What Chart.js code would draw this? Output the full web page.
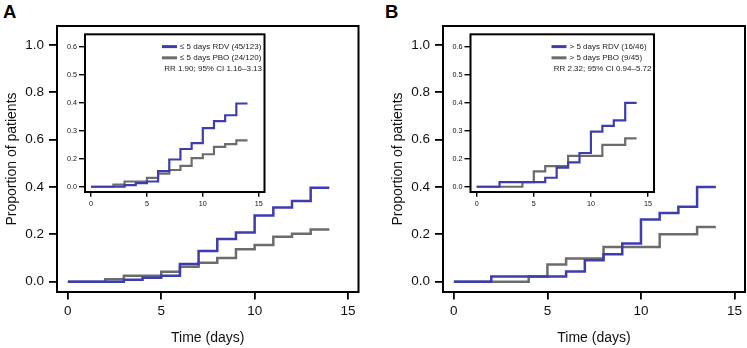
<!DOCTYPE html>
<html>
<head>
<meta charset="utf-8">
<script src="https://cdn.jsdelivr.net/npm/chart.js@4.4.1/dist/chart.umd.min.js"></script>
<style>
  html, body { margin: 0; padding: 0; background: #fff; }
  #wrap { position: relative; width: 747px; height: 348px; overflow: hidden; font-family: 'Liberation Sans', Arial, sans-serif; }
  canvas { position: absolute; }
  .panel { position: absolute; font-weight: bold; font-size: 18.5px; line-height: 18.5px; color: #000; }
</style>
</head>
<body>
<div id="wrap">
  <div class="panel" style="left:3px;top:3px">A</div>
  <div class="panel" style="left:385px;top:3px">B</div>
  <canvas id="mainA" width="373" height="348" style="left:0;top:0"></canvas>
  <canvas id="mainB" width="361" height="348" style="left:386px;top:0"></canvas>
  <canvas id="insetA" width="215" height="190" style="left:55px;top:28px"></canvas>
  <canvas id="insetB" width="218" height="190" style="left:441px;top:28px"></canvas>
</div>
<script>
// time axis (days) and cumulative proportions
const days = [0, 1, 2, 3, 4, 5, 6, 7, 8, 9, 10, 11, 12, 13, 14];

const rdvShort = [0, 0, 0, 0.008, 0.017, 0.025, 0.075, 0.13, 0.18, 0.208, 0.28, 0.313, 0.341, 0.397, 0.397];
const pboShort = [0, 0, 0.01, 0.025, 0.025, 0.042, 0.063, 0.08, 0.1, 0.137, 0.155, 0.19, 0.203, 0.221, 0.221];

const rdvLong = [0, 0, 0.022, 0.022, 0.022, 0.022, 0.043, 0.091, 0.116, 0.161, 0.263, 0.29, 0.317, 0.4, 0.4];
const pboLong = [0, 0, 0, 0, 0.022, 0.073, 0.098, 0.098, 0.147, 0.147, 0.147, 0.2, 0.2, 0.231, 0.231];

const legendA = ['\u2264 5 days RDV (45/123)', '\u2264 5 days PBO (24/120)', 'RR 1.90; 95% CI 1.16\u20133.13'];
const legendB = ['> 5 days RDV (16/46)', '> 5 days PBO (9/45)', 'RR 2.32; 95% CI 0.94\u20135.72'];

const xTicks = [0, 5, 10, 15];
const yTicks = [0, 0.2, 0.4, 0.6, 0.8, 1.0];
// inset axis: evenly spaced marks, labelled as printed in the figure
const insetTickValues = [0, 0.1333, 0.2667, 0.4, 0.5333, 0.6667];
const insetTickLabels = ['0.0', '0.2', '0.3', '0.4', '0.5', '0.6'];

const BLUE = '#3d3db0';
const GREY = '#6c6c6c';
const FONT = "'Liberation Sans', Arial, sans-serif";

const framePlugin = {
    id: 'frame',
    beforeDraw(chart, args, opts) {
        if (!opts.fill) return;
        const a = chart.chartArea;
        chart.ctx.save();
        chart.ctx.fillStyle = '#fff';
        chart.ctx.fillRect(a.left, a.top, a.right - a.left, a.bottom - a.top);
        chart.ctx.restore();
    },
    afterDraw(chart, args, opts) {
        const {ctx, chartArea: a} = chart;
        ctx.save();
        ctx.strokeStyle = '#000';
        ctx.lineWidth = opts.width;
        ctx.strokeRect(a.left, a.top, a.right - a.left, a.bottom - a.top);
        ctx.restore();
    }
};

const insetLegend = {
    id: 'insetLegend',
    afterDatasetsDraw(chart, args, opts) {
        if (!opts.rows) return;
        const {ctx, chartArea: a} = chart;
        ctx.save();
        ctx.font = '8px ' + FONT;
        ctx.textBaseline = 'middle';
        ctx.fillStyle = '#222';
        opts.rows.forEach((text, i) => {
            const y = a.top + 12.3 + i * 11.2;
            const color = opts.colors[i];
            if (color) {
                ctx.strokeStyle = color;
                ctx.lineWidth = 3;
                ctx.beginPath();
                ctx.moveTo(a.right - 102.5, y);
                ctx.lineTo(a.right - 87.5, y);
                ctx.stroke();
                ctx.textAlign = 'left';
                ctx.fillText(text, a.right - 84.5, y);
            } else {
                ctx.textAlign = 'right';
                ctx.fillText(text, a.right - 2.5, y);
            }
        });
        ctx.restore();
    }
};

function makeChart(id, c) {
    return new Chart(document.getElementById(id), {
        type: 'line',
        data: {
            datasets: c.series.map(s => ({
                data: days.map((d, i) => ({x: d, y: s.values[i]})),
                borderColor: s.color,
                borderWidth: c.lineWidth,
                stepped: true,
                pointRadius: 0,
                fill: false,
            })),
        },
        options: {
            responsive: false,
            animation: false,
            devicePixelRatio: 1,
            layout: { padding: c.padding },
            plugins: {
                legend: { display: false },
                tooltip: { enabled: false },
                frame: { width: c.frameWidth, fill: c.inset },
                insetLegend: c.legend || {},
            },
            scales: {
                x: {
                    type: 'linear',
                    min: c.xMin,
                    max: c.xMax,
                    afterBuildTicks: s => { s.ticks = xTicks.map(v => ({value: v})); },
                    afterFit: s => { s.height = c.xHeight; },
                    border: { display: false },
                    grid: { drawOnChartArea: false, drawTicks: true, tickLength: c.xTickLen, color: '#000', lineWidth: c.tickWidth },
                    ticks: { autoSkip: false, maxRotation: 0, padding: c.xPad, color: '#111', font: { family: FONT, size: c.tickFont } },
                    title: c.inset ? { display: false } : {
                        display: true, text: 'Time (days)', color: '#111',
                        font: { family: FONT, size: 14 }, padding: { top: 0, bottom: 1 },
                    },
                },
                y: {
                    type: 'linear',
                    min: c.yMin,
                    max: c.yMax,
                    afterBuildTicks: s => { s.ticks = c.yValues.map(v => ({value: v})); },
                    afterFit: s => { s.width = c.yWidth; },
                    border: { display: false },
                    grid: { drawOnChartArea: false, drawTicks: true, tickLength: c.yTickLen, color: '#000', lineWidth: c.tickWidth },
                    ticks: {
                        autoSkip: false, padding: c.yPad, color: '#111', font: { family: FONT, size: c.tickFont },
                        callback: (v, i) => c.yLabels ? c.yLabels[i] : v.toFixed(1),
                    },
                    title: c.inset ? { display: false } : {
                        display: true, text: 'Proportion of patients', color: '#111',
                        font: { family: FONT, size: 14 }, padding: { top: 3.6, bottom: 0 },
                    },
                },
            },
        },
        plugins: [framePlugin, insetLegend],
    });
}

const mainBase = {
    inset: false, lineWidth: 2.5, frameWidth: 2, tickWidth: 1.8,
    xMin: -0.58, xMax: 15.56, yMin: -0.0435, yMax: 1.08,
    xHeight: 56, yWidth: 57, xTickLen: 7.5, yTickLen: 8, xPad: 4, yPad: 5,
    tickFont: 13.5, yValues: yTicks,
};
const insetBase = {
    inset: true, lineWidth: 2.2, frameWidth: 2, tickWidth: 1.4,
    xMin: -0.54, xMax: 15.52, yMin: -0.025, yMax: 0.727,
    xHeight: 26, yWidth: 30, xTickLen: 4.7, yTickLen: 6, xPad: 2.6, yPad: 2,
    tickFont: 7.2, yValues: insetTickValues, yLabels: insetTickLabels,
};

makeChart('mainA', Object.assign({}, mainBase, {
    padding: { left: 0, top: 26, right: 14.5, bottom: 0 },
    series: [{ values: rdvShort, color: BLUE }, { values: pboShort, color: GREY }],
}));
makeChart('mainB', Object.assign({}, mainBase, {
    padding: { left: 0, top: 26, right: 2, bottom: 0 },
    series: [{ values: rdvLong, color: BLUE }, { values: pboLong, color: GREY }],
}));
makeChart('insetA', Object.assign({}, insetBase, {
    padding: { left: 0, top: 5, right: 5.5, bottom: 0 },
    series: [{ values: rdvShort, color: BLUE }, { values: pboShort, color: GREY }],
    legend: { rows: legendA, colors: [BLUE, GREY, null] },
}));
makeChart('insetB', Object.assign({}, insetBase, {
    yWidth: 29.5,
    padding: { left: 0, top: 5, right: 5, bottom: 0 },
    series: [{ values: rdvLong, color: BLUE }, { values: pboLong, color: GREY }],
    legend: { rows: legendB, colors: [BLUE, GREY, null] },
}));
</script>
</body>
</html>
